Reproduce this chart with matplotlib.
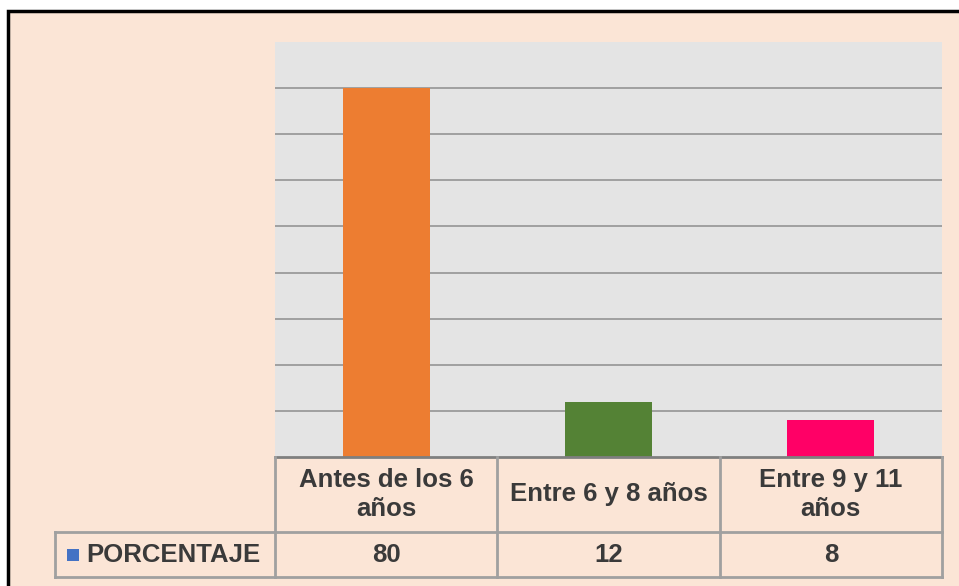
import matplotlib
matplotlib.use("Agg")
import matplotlib.pyplot as plt
from matplotlib.patches import Rectangle
from matplotlib.lines import Line2D
import matplotlib.transforms as mtransforms

categories = ["Antes de los 6\naños", "Entre 6 y 8 años", "Entre 9 y 11\naños"]
values = [80, 12, 8]
series_name = "PORCENTAJE"
bar_colors = ["#ED7D31", "#548235", "#FF0066"]

W, H = 959, 586
fig = plt.figure(figsize=(W / 100, H / 100), dpi=100)
fig.patch.set_facecolor("white")

# outer peach panel with black border (right/bottom edges outside the image)
panel = Rectangle((8 / W, -0.2), 1.2, (H - 11) / H + 0.2, transform=fig.transFigure,
                  facecolor="#FBE5D6", edgecolor="black", linewidth=2.5, zorder=0)
fig.add_artist(panel)

ax_l, ax_r, ax_t, ax_b = 275, 942, 42, 457
ax = fig.add_axes([ax_l / W, (H - ax_b) / H, (ax_r - ax_l) / W, (ax_b - ax_t) / H])
ax.set_facecolor("#E4E4E4")
x = list(range(len(categories)))
ax.bar(x, values, width=0.39, color=bar_colors, zorder=3)
ax.set_xlim(-0.5, len(categories) - 0.5)
ax.set_ylim(0, 90)
ax.set_yticks(range(10, 90, 10))
ax.yaxis.grid(True, color="#9A9A9A", linewidth=1.3, zorder=1)
ax.tick_params(left=False, bottom=False, labelleft=False, labelbottom=False)
for s in ["top", "left", "right"]:
    ax.spines[s].set_visible(False)
ax.spines["bottom"].set_color("#7F7F7F")
ax.spines["bottom"].set_linewidth(2)
ax.spines["bottom"].set_zorder(4)

# table below axes
trans = mtransforms.blended_transform_factory(ax.transData, ax.transAxes)
ah = ax_b - ax_t
def ay(py):
    return -(py - ax_b) / ah

y_hdr_bot = ay(532)
y_bot = ay(577)
line_kw = dict(color="#A0A0A0", linewidth=2, transform=trans, clip_on=False, zorder=5)
edges = [i - 0.5 for i in range(len(categories) + 1)]
for e in edges:
    ax.add_line(Line2D([e, e], [0, y_bot], **line_kw))
ax.add_line(Line2D([edges[0], edges[-1]], [y_hdr_bot, y_hdr_bot], **line_kw))
ax.add_line(Line2D([edges[0], edges[-1]], [y_bot, y_bot], **line_kw))

# left label cell (axes coords)
left_x = (55 - ax_l) / (ax_r - ax_l)
lk = dict(color="#A0A0A0", linewidth=2, transform=ax.transAxes, clip_on=False, zorder=5)
ax.add_line(Line2D([left_x, 0], [y_hdr_bot, y_hdr_bot], **lk))
ax.add_line(Line2D([left_x, 0], [y_bot, y_bot], **lk))
ax.add_line(Line2D([left_x, left_x], [y_hdr_bot, y_bot], **lk))

FS = 18.5
txt = dict(fontfamily="Liberation Sans", fontweight="bold", fontsize=FS,
           color="#3A3A3A", ha="center", va="center", transform=trans,
           clip_on=False, linespacing=1.22)
y_hdr_mid = (0 + y_hdr_bot) / 2
y_val_mid = (y_hdr_bot + y_bot) / 2
for xi, c, v in zip(x, categories, values):
    ax.text(xi, y_hdr_mid, c, **txt)
    ax.text(xi, y_val_mid, str(v), **txt)

# legend key + series name
key_x = (67 - ax_l) / (ax_r - ax_l)
key_w = 12 / (ax_r - ax_l)
key_h = 12 / ah
ax.add_patch(Rectangle((key_x, y_val_mid - key_h / 2), key_w, key_h,
                       transform=ax.transAxes, facecolor="#4472C4",
                       edgecolor="none", clip_on=False, zorder=5))
ax.text((86 - ax_l) / (ax_r - ax_l), y_val_mid, series_name,
        fontfamily="Liberation Sans", fontweight="bold", fontsize=FS,
        color="#3A3A3A", ha="left", va="center", transform=ax.transAxes,
        clip_on=False)

fig.savefig("out.png", dpi=100)
